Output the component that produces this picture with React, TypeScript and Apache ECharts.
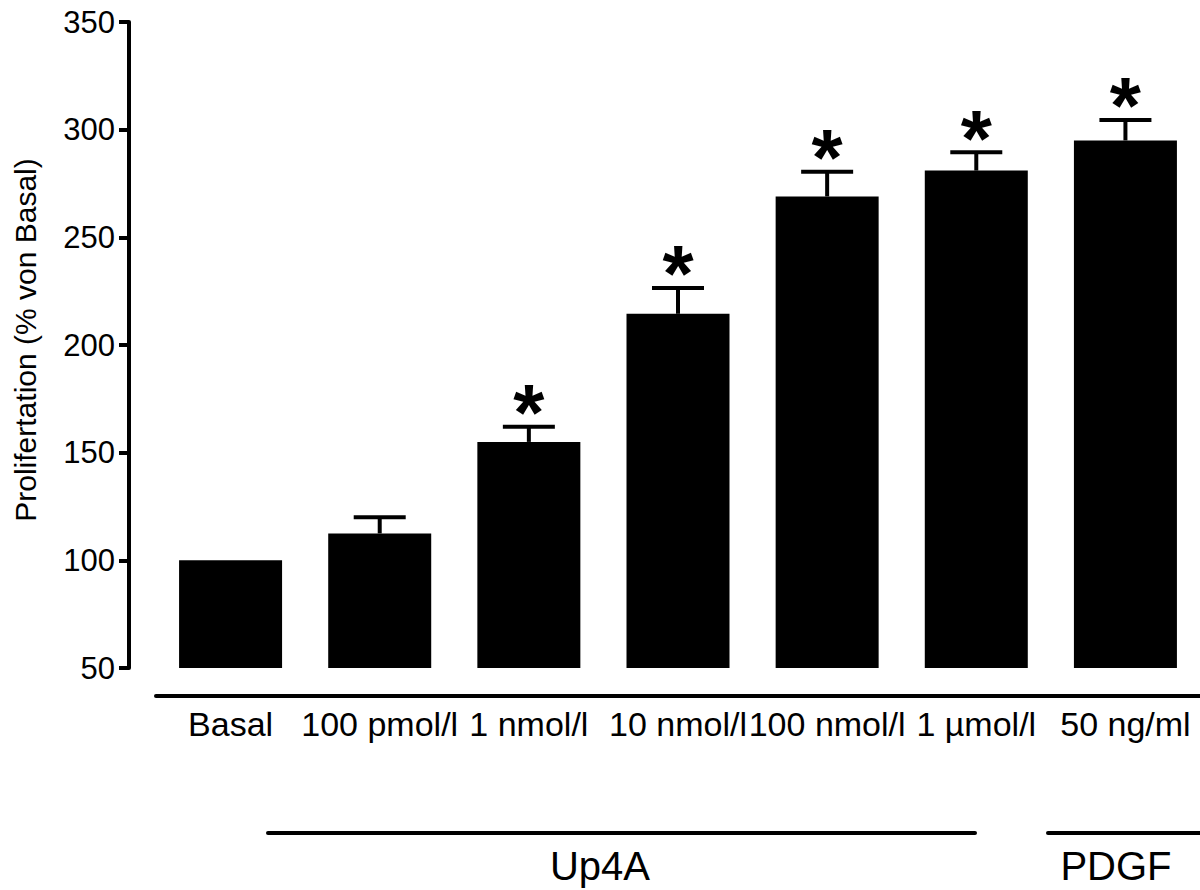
import React, { useEffect, useRef } from "react";
import * as echarts from "echarts";

const categories = ["Basal", "100 pmol/l", "1 nmol/l", "10 nmol/l", "100 nmol/l", "1 µmol/l", "50 ng/ml"];
const means = [100, 112.5, 155, 214.5, 269, 281, 295];
const sems = [0, 7.5, 7, 12, 11.5, 8.5, 9.5];
const significant = [false, false, true, true, true, true, true];
const yTicks = { min: 50, max: 350, interval: 50 };
const yAxisTitle = "Prolifertation (% von Basal)";
const groupLabels = ["Up4A", "PDGF"];

const FONT = "'Liberation Sans', Arial, sans-serif";

export default function App() {
  const ref = useRef<HTMLDivElement>(null);
  useEffect(() => {
    if (!ref.current) return;
    const chart = echarts.init(ref.current, undefined, { renderer: "svg" });
    const errData = categories.map((c, i) => [i, means[i], means[i] + sems[i], significant[i] ? 1 : 0]);
    chart.setOption({
      animation: false,
      backgroundColor: "#fff",
      textStyle: { fontFamily: FONT },
      grid: { left: 156, right: 0, top: 22, bottom: 222, containLabel: false },
      xAxis: {
        type: "category",
        data: categories,
        offset: 28,
        axisLine: { show: true, lineStyle: { color: "#000", width: 4 } },
        axisTick: { show: false },
        axisLabel: { interval: 0, color: "#000", fontSize: 34, fontFamily: FONT, margin: 11 },
      },
      yAxis: {
        type: "value",
        min: yTicks.min,
        max: yTicks.max,
        interval: yTicks.interval,
        offset: 27,
        splitLine: { show: false },
        axisLine: { show: true, lineStyle: { color: "#000", width: 4 } },
        axisTick: { show: true, length: 10, lineStyle: { color: "#000", width: 4 } },
        axisLabel: { color: "#000", fontSize: 31, fontFamily: FONT, margin: 14 },
      },
      series: [
        {
          type: "bar",
          data: means,
          barWidth: 103,
          itemStyle: { color: "#000" },
          z: 2,
        },
        {
          type: "custom",
          data: errData,
          z: 3,
          renderItem: (params: any, api: any) => {
            const i = api.value(0);
            const lo = api.coord([i, api.value(1)]);
            const hi = api.coord([i, api.value(2)]);
            const sig = api.value(3);
            const children: any[] = [];
            if (hi[1] < lo[1] - 0.5) {
              children.push({
                type: "line",
                shape: { x1: lo[0], y1: lo[1], x2: hi[0], y2: hi[1] },
                style: { stroke: "#000", lineWidth: 4 },
              });
              children.push({
                type: "line",
                shape: { x1: hi[0] - 26, y1: hi[1], x2: hi[0] + 26, y2: hi[1] },
                style: { stroke: "#000", lineWidth: 4 },
              });
            }
            if (sig) {
              children.push({
                type: "text",
                style: {
                  text: "*",
                  x: hi[0],
                  y: hi[1] - 14,
                  textAlign: "center",
                  textVerticalAlign: "middle",
                  fontSize: 80,
                  fontWeight: "bold",
                  fontFamily: FONT,
                  fill: "#000",
                },
              });
            }
            return { type: "group", children };
          },
        },
      ],
      graphic: [
        {
          type: "text",
          x: 25,
          y: 340,
          rotation: Math.PI / 2,
          style: {
            text: yAxisTitle,
            textAlign: "center",
            textVerticalAlign: "middle",
            fontSize: 30,
            fontFamily: FONT,
            fill: "#000",
          },
        },
        {
          type: "line",
          shape: { x1: 268, y1: 833, x2: 975, y2: 833 },
          style: { stroke: "#000", lineWidth: 4, lineCap: "round" },
        },
        {
          type: "line",
          shape: { x1: 1048, y1: 833, x2: 1200, y2: 833 },
          style: { stroke: "#000", lineWidth: 4, lineCap: "round" },
        },
        {
          type: "text",
          x: 600,
          y: 866,
          style: {
            text: groupLabels[0],
            textAlign: "center",
            textVerticalAlign: "middle",
            fontSize: 40,
            fontFamily: FONT,
            fill: "#000",
          },
        },
        {
          type: "text",
          x: 1116,
          y: 866,
          style: {
            text: groupLabels[1],
            textAlign: "center",
            textVerticalAlign: "middle",
            fontSize: 40,
            fontFamily: FONT,
            fill: "#000",
          },
        },
      ],
    });
    return () => chart.dispose();
  }, []);
  return (
    <div
      ref={ref}
      style={{ position: "fixed", left: 0, top: 0, width: 1200, height: 890, background: "#fff" }}
    />
  );
}
